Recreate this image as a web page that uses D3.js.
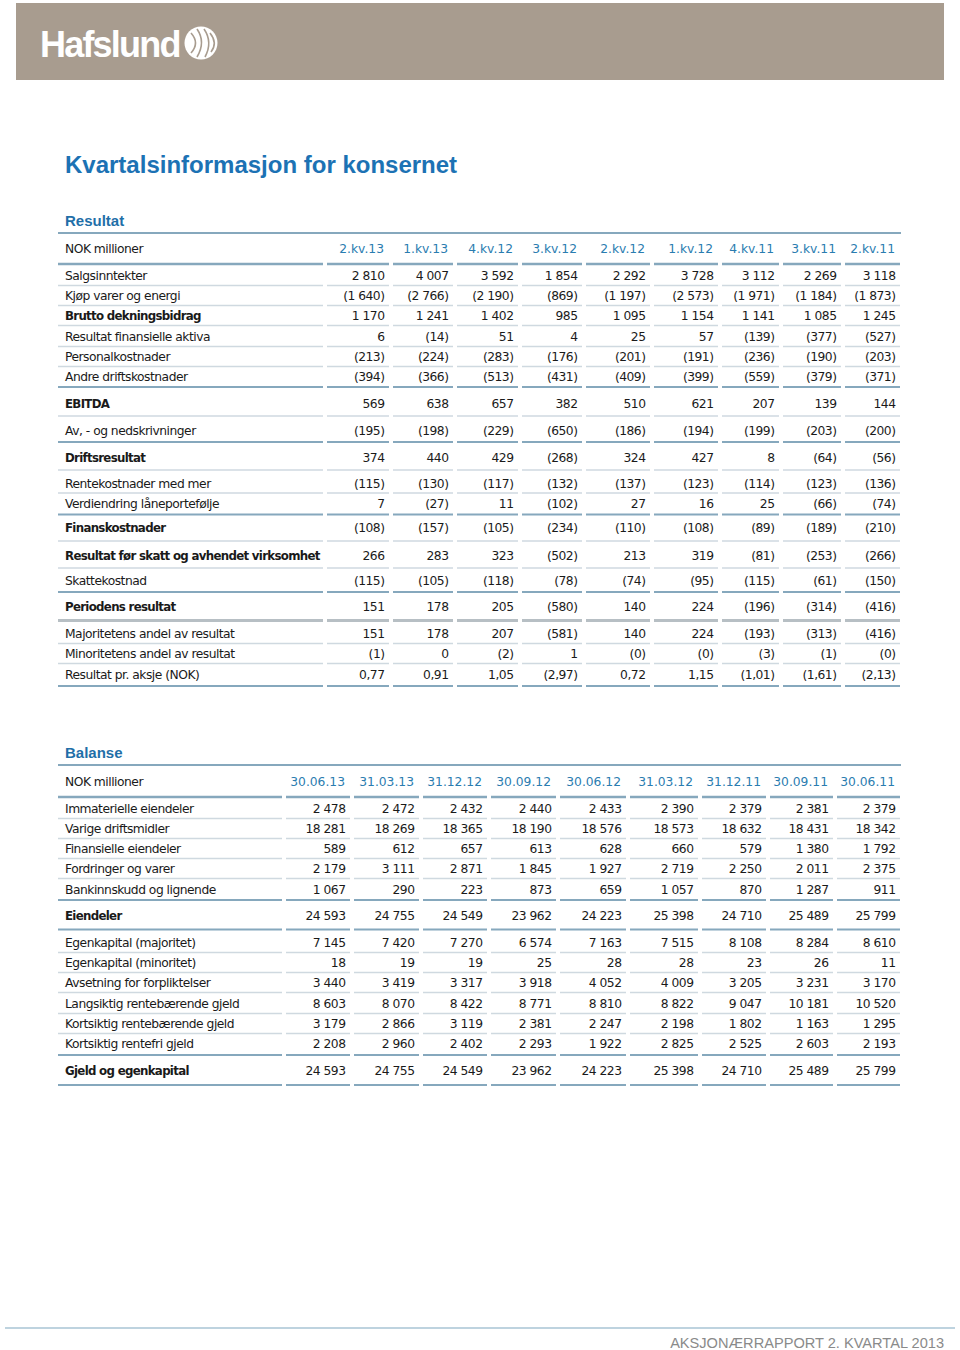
<!DOCTYPE html>
<html><head><meta charset="utf-8">
<script src="https://cdn.jsdelivr.net/npm/d3@7"></script>
<style>
html,body{margin:0;padding:0;background:#fff;}
svg{display:block;}
</style></head>
<body>
<svg id="page" width="960" height="1350"></svg>
<script>
// ---------- DATA ----------
const resultatPeriods = ["2.kv.13","1.kv.13","4.kv.12","3.kv.12","2.kv.12","1.kv.12","4.kv.11","3.kv.11","2.kv.11"];
const resultatLabels = [
  "Salgsinntekter","Kjøp varer og energi","Brutto dekningsbidrag","Resultat finansielle aktiva",
  "Personalkostnader","Andre driftskostnader","EBITDA","Av, - og nedskrivninger","Driftsresultat",
  "Rentekostnader med mer","Verdiendring låneportefølje","Finanskostnader",
  "Resultat før skatt og avhendet virksomhet","Skattekostnad","Periodens resultat",
  "Majoritetens andel av resultat","Minoritetens andel av resultat","Resultat pr. aksje (NOK)"
];
const resultatBold = ["Brutto dekningsbidrag","EBITDA","Driftsresultat","Finanskostnader",
  "Resultat før skatt og avhendet virksomhet","Periodens resultat"];
const salgsinntekter   = [2810, 4007, 3592, 1854, 2292, 3728, 3112, 2269, 3118];
const kjopVarer        = [-1640, -2766, -2190, -869, -1197, -2573, -1971, -1184, -1873];
const bruttoDekning    = [1170, 1241, 1402, 985, 1095, 1154, 1141, 1085, 1245];
const resFinAktiva     = [6, -14, 51, 4, 25, 57, -139, -377, -527];
const personalkost     = [-213, -224, -283, -176, -201, -191, -236, -190, -203];
const andreDrift       = [-394, -366, -513, -431, -409, -399, -559, -379, -371];
const ebitda           = [569, 638, 657, 382, 510, 621, 207, 139, 144];
const avskrivninger    = [-195, -198, -229, -650, -186, -194, -199, -203, -200];
const driftsresultat   = [374, 440, 429, -268, 324, 427, 8, -64, -56];
const rentekost        = [-115, -130, -117, -132, -137, -123, -114, -123, -136];
const verdiendring     = [7, -27, 11, -102, 27, 16, 25, -66, -74];
const finanskost       = [-108, -157, -105, -234, -110, -108, -89, -189, -210];
const resForSkatt      = [266, 283, 323, -502, 213, 319, -81, -253, -266];
const skattekost       = [-115, -105, -118, -78, -74, -95, -115, -61, -150];
const periodensRes     = [151, 178, 205, -580, 140, 224, -196, -314, -416];
const majoritetens     = [151, 178, 207, -581, 140, 224, -193, -313, -416];
const minoritetens     = [-1, 0, -2, 1, -0, -0, -3, -1, -0];
const resPrAksje       = [0.77, 0.91, 1.05, -2.97, 0.72, 1.15, -1.01, -1.61, -2.13];

const balanseDates = ["30.06.13","31.03.13","31.12.12","30.09.12","30.06.12","31.03.12","31.12.11","30.09.11","30.06.11"];
const balanseLabels = [
  "Immaterielle eiendeler","Varige driftsmidler","Finansielle eiendeler","Fordringer og varer",
  "Bankinnskudd og lignende","Eiendeler","Egenkapital (majoritet)","Egenkapital (minoritet)",
  "Avsetning for forpliktelser","Langsiktig rentebærende gjeld","Kortsiktig rentebærende gjeld",
  "Kortsiktig rentefri gjeld","Gjeld og egenkapital"
];
const balanseBold = ["Eiendeler","Gjeld og egenkapital"];
const immaterielle   = [2478, 2472, 2432, 2440, 2433, 2390, 2379, 2381, 2379];
const varige         = [18281, 18269, 18365, 18190, 18576, 18573, 18632, 18431, 18342];
const finansielle    = [589, 612, 657, 613, 628, 660, 579, 1380, 1792];
const fordringer     = [2179, 3111, 2871, 1845, 1927, 2719, 2250, 2011, 2375];
const bankinnskudd   = [1067, 290, 223, 873, 659, 1057, 870, 1287, 911];
const eiendeler      = [24593, 24755, 24549, 23962, 24223, 25398, 24710, 25489, 25799];
const egenkapMaj     = [7145, 7420, 7270, 6574, 7163, 7515, 8108, 8284, 8610];
const egenkapMin     = [18, 19, 19, 25, 28, 28, 23, 26, 11];
const avsetning      = [3440, 3419, 3317, 3918, 4052, 4009, 3205, 3231, 3170];
const langsiktig     = [8603, 8070, 8422, 8771, 8810, 8822, 9047, 10181, 10520];
const kortsiktigRb   = [3179, 2866, 3119, 2381, 2247, 2198, 1802, 1163, 1295];
const kortsiktigRf   = [2208, 2960, 2402, 2293, 1922, 2825, 2525, 2603, 2193];
const gjeldEgenkap   = [24593, 24755, 24549, 23962, 24223, 25398, 24710, 25489, 25799];

const resultatValues = [salgsinntekter,kjopVarer,bruttoDekning,resFinAktiva,personalkost,andreDrift,
  ebitda,avskrivninger,driftsresultat,rentekost,verdiendring,finanskost,resForSkatt,skattekost,
  periodensRes,majoritetens,minoritetens,resPrAksje];
const balanseValues = [immaterielle,varige,finansielle,fordringer,bankinnskudd,eiendeler,
  egenkapMaj,egenkapMin,avsetning,langsiktig,kortsiktigRb,kortsiktigRf,gjeldEgenkap];

// ---------- LAYOUT ----------
const BLUE_TITLE = "#1c72b4";
const BLUE_HEAD = "#1f6fa8";
const BLUE_COL = "#2a7cb0";
const LINE_DARK = "#86a8bd";
const LINE_LIGHT = "#cfd9e0";
const LINE_GRAY = "#b7bfc4";
const TEXT = "#1a1a1a";
const FONT = "'DejaVu Sans', Verdana, sans-serif";
const FS = 12.3, LS = -0.5, FSB = 11.8, LSB = -0.7;

const svg = d3.select("#page");

// header band
svg.append("rect").attr("x",16).attr("y",3).attr("width",928).attr("height",77).attr("fill","#a89c8f");
svg.append("text").attr("x",40).attr("y",57).attr("fill","#fff")
  .attr("font-family","'Liberation Sans', Arial, sans-serif").attr("font-weight","bold")
  .attr("font-size",36).attr("letter-spacing",-1.8).text("Hafslund");
// logo emblem
const emb = svg.append("g").attr("transform","translate(201,43)");
emb.append("circle").attr("r",16.5).attr("fill","#fff");
[[-10,-10,-5,0,-10,10],[-4,-14,1,-1,-4,14],[3,-14,8,-1,4,14],[9,-10,13,0,10,9]].forEach(p=>{
  emb.append("path").attr("d",`M${p[0]},${p[1]} Q${p[2]+4},${p[3]} ${p[4]},${p[5]}`)
    .attr("fill","none").attr("stroke","#a89c8f").attr("stroke-width",1.6);
});

// title
svg.append("text").attr("x",65).attr("y",173).attr("fill",BLUE_TITLE)
  .attr("font-family","'Liberation Sans', Arial, sans-serif").attr("font-weight","bold")
  .attr("font-size",24).text("Kvartalsinformasjon for konsernet");

function fmt(v, dec){
  const neg = v < 0 || Object.is(v,-0);
  const a = Math.abs(v);
  let s = dec ? a.toFixed(dec).replace(".",",") : d3.format(",")(Math.round(a)).replace(/,/g," ");
  return neg ? "(" + s + ")" : s;
}

function drawTable(cfg){
  const g = svg.append("g");
  g.append("text").attr("x",65).attr("y",cfg.titleY).attr("fill",BLUE_HEAD)
    .attr("font-family","'Liberation Sans', Arial, sans-serif").attr("font-weight","bold")
    .attr("font-size",15).text(cfg.title);
  g.append("line").attr("x1",58).attr("x2",901).attr("y1",cfg.topLineY).attr("y2",cfg.topLineY)
    .attr("stroke",LINE_DARK).attr("stroke-width",2.2);

  const x = d3.scaleOrdinal().domain(cfg.columns).range(cfg.colRights);
  const segs = [[58, cfg.labelEnd]];
  let prev = cfg.labelEnd;
  cfg.columns.forEach(c=>{ const r = x(c)+5; segs.push([prev+4, r]); prev = r; });

  const rowY = d3.scaleOrdinal().domain(cfg.labels).range(cfg.rowYs);

  function segLine(y, color, w){
    g.append("g").selectAll("line").data(segs).join("line")
      .attr("x1",d=>d[0]).attr("x2",d=>d[1]).attr("y1",y).attr("y2",y)
      .attr("stroke",color).attr("stroke-width",w);
  }

  g.append("text").attr("x",65).attr("y",cfg.headerY+4.5).attr("fill",TEXT)
    .attr("font-family",FONT).attr("font-size",FS).attr("letter-spacing",LS).text("NOK millioner");
  g.append("g").selectAll("text").data(cfg.columns).join("text")
    .attr("x",d=>x(d)).attr("y",cfg.headerY+4.5).attr("text-anchor","end")
    .attr("fill",BLUE_COL).attr("font-family",FONT).attr("font-size",FS)
    .attr("letter-spacing",0).text(d=>d);
  segLine(cfg.headerLineY, LINE_DARK, 2.4);

  cfg.labels.forEach((lab,i)=>{
    const t = cfg.lineTypes[i];
    const y = rowY(lab) + cfg.lineOff[i];
    if (t==="d") segLine(y, LINE_DARK, 2);
    else if (t==="g") segLine(y, LINE_GRAY, 3);
    else segLine(y, LINE_LIGHT, 1.5);
  });

  cfg.labels.forEach((lab,i)=>{
    const bold = cfg.bold.includes(lab);
    const y = rowY(lab) + 4.5;
    g.append("text").attr("x",65).attr("y",y).attr("fill",TEXT)
      .attr("font-family",FONT).attr("font-size",bold?FSB:FS)
      .attr("font-weight",bold?"bold":"normal").attr("letter-spacing",bold?LSB:LS).text(lab);
    const dec = cfg.decimalsRow === lab ? 2 : 0;
    g.append("g").selectAll("text").data(cfg.values[i]).join("text")
      .attr("x",(d,j)=>x(cfg.columns[j])+0.5).attr("y",y).attr("text-anchor","end")
      .attr("fill",TEXT).attr("font-family",FONT).attr("font-size",FS).attr("letter-spacing",LS)
      .text(d=>fmt(d,dec));
  });
}

drawTable({
  title:"Resultat", titleY:226, topLineY:233, headerY:248, headerLineY:264,
  columns:resultatPeriods, labels:resultatLabels, values:resultatValues, bold:resultatBold,
  colRights:[384,448,513,577,645,713,774,836,895], labelEnd:323,
  rowYs:[275,295,315,336,356,376,403,430,457,483,503,527,555,580,606,633,653,674],
  lineTypes:["l","l","l","l","l","d","l","d","l","l","d","l","l","d","g","l","l","d"],
  lineOff:[10.5,10.5,10.5,10.5,10.5,11,13,12,13,10,11.5,14,13,12,14.5,10.5,10.5,12],
  decimalsRow:"Resultat pr. aksje (NOK)"
});

drawTable({
  title:"Balanse", titleY:758, topLineY:765, headerY:781, headerLineY:797,
  columns:balanseDates, labels:balanseLabels, values:balanseValues, bold:balanseBold,
  colRights:[345,414,482,551,621,693,761,828,895], labelEnd:282,
  rowYs:[808,828,848,868,889,915,942,962,982,1003,1023,1043,1070],
  lineTypes:["l","l","l","l","d","d","l","l","l","l","l","d","d"],
  lineOff:[10.5,10.5,10.5,10.5,11,14.5,10.5,10.5,10.5,10.5,10.5,12,15],
  decimalsRow:null
});

// footer
svg.append("line").attr("x1",5).attr("x2",955).attr("y1",1328).attr("y2",1328)
  .attr("stroke","#a9c4d4").attr("stroke-width",1.5);
svg.append("text").attr("x",944).attr("y",1348).attr("text-anchor","end").attr("fill","#8a8a8a")
  .attr("font-family","'Liberation Sans', Arial, sans-serif").attr("font-size",14.6)
  .text("AKSJONÆRRAPPORT 2. KVARTAL 2013");
</script>
</body></html>
